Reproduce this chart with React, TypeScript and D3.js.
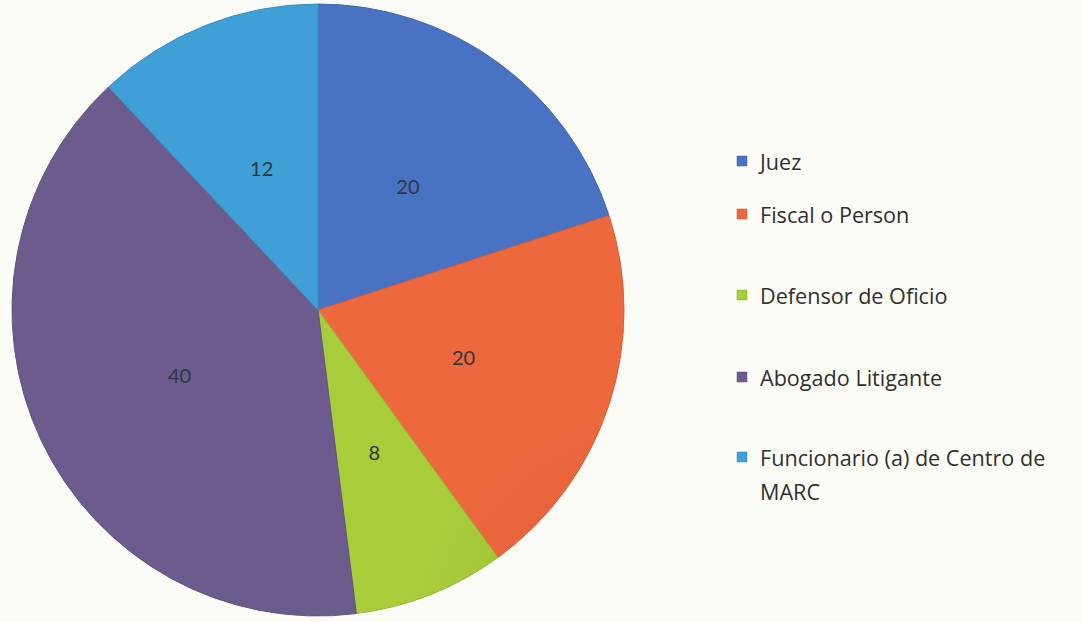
import { useEffect, useRef } from "react";
import * as d3 from "d3";

// chart data
const categories = [
  "Juez",
  "Fiscal o Person",
  "Defensor de Oficio",
  "Abogado Litigante",
  "Funcionario (a) de Centro de MARC",
];
const values = [20, 20, 8, 40, 12];
const colors = ["#4a72c2", "#ee683e", "#a8cc3a", "#6c5c8e", "#3f9fd6"];
const legendLines = [["Juez"], ["Fiscal o Person"], ["Defensor de Oficio"], ["Abogado Litigante"], ["Funcionario (a) de Centro de", "MARC"]];

const W = 1082;
const H = 622;

export default function App() {
  const svgRef = useRef<SVGSVGElement | null>(null);

  useEffect(() => {
    if (!svgRef.current) return;
    const svg = d3.select(svgRef.current);
    svg.selectAll("*").remove();

    const cx = 318;
    const cy = 310;
    const R = 306;

    const defs = svg.append("defs");
    colors.forEach((c, i) => {
      const g = defs
        .append("radialGradient")
        .attr("id", `grad${i}`)
        .attr("gradientUnits", "userSpaceOnUse")
        .attr("cx", cx)
        .attr("cy", cy)
        .attr("r", R);
      const base = d3.color(c)!;
      g.append("stop").attr("offset", "0%").attr("stop-color", base.darker(0.25).toString());
      g.append("stop").attr("offset", "70%").attr("stop-color", c);
      g.append("stop").attr("offset", "100%").attr("stop-color", c);
    });

    svg.append("rect").attr("width", W).attr("height", H).attr("fill", "#fcfcf6");

    const pie = d3.pie<number>().sort(null).value(d => d);
    const arcs = pie(values);
    const arc = d3.arc<d3.PieArcDatum<number>>().innerRadius(0).outerRadius(R);
    const labelArc = d3.arc<d3.PieArcDatum<number>>().innerRadius(R / 2).outerRadius(R / 2);

    const g = svg.append("g").attr("transform", `translate(${cx},${cy})`);

    g.selectAll("path")
      .data(arcs)
      .enter()
      .append("path")
      .attr("d", arc)
      .attr("fill", (_d, i) => `url(#grad${i})`)
      .attr("stroke", (_d, i) => d3.color(colors[i])!.darker(0.3).toString())
      .attr("stroke-width", 1);

    g.selectAll("text")
      .data(arcs)
      .enter()
      .append("text")
      .attr("transform", d => `translate(${labelArc.centroid(d)})`)
      .attr("text-anchor", "middle")
      .attr("dominant-baseline", "central")
      .attr("font-family", "Lato, 'Open Sans', sans-serif")
      .attr("font-size", 20)
      .attr("fill", "#2e3640")
      .text(d => String(d.data));

    // legend
    const legendY = [161, 214, 295, 377, 457];
    const lg = svg.append("g").attr("font-family", "'Open Sans', sans-serif").attr("font-size", 21.6).attr("fill", "#303030");
    categories.forEach((_cat, i) => {
      const y = legendY[i];
      lg.append("rect")
        .attr("x", 737)
        .attr("y", y - 5)
        .attr("width", 10)
        .attr("height", 10)
        .attr("fill", colors[i])
        .attr("stroke", d3.color(colors[i])!.darker(0.5).toString())
        .attr("stroke-width", 0.5);
      legendLines[i].forEach((line, j) => {
        lg.append("text")
          .attr("x", 760)
          .attr("y", y + j * 34)
          .attr("dominant-baseline", "central")
          .text(line);
      });
    });
  }, []);

  return (
    <svg
      ref={svgRef}
      width={W}
      height={H}
      style={{ position: "absolute", left: 0, top: 0, display: "block" }}
    />
  );
}
